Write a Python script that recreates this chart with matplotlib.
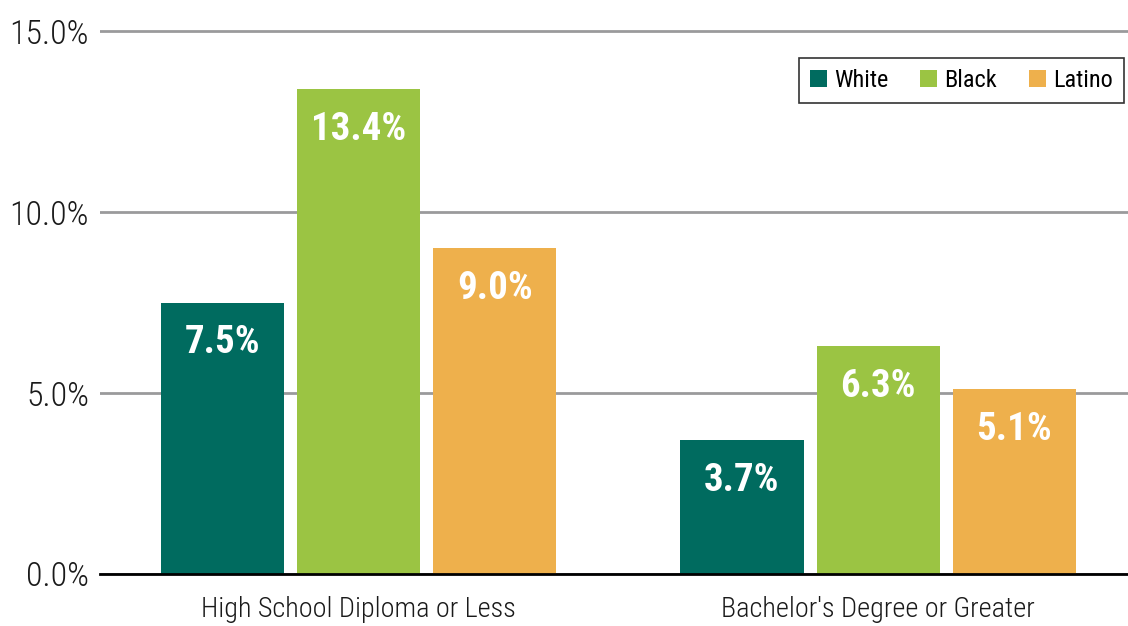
import numpy as np
import matplotlib
matplotlib.use('Agg')
from matplotlib import pyplot as plt

# data
groups = ['High School Diploma or Less', "Bachelor's Degree or Greater"]
series = ['White', 'Black', 'Latino']
white = [7.5, 3.7]
black = [13.4, 6.3]
latino = [9.0, 5.1]
colors = ['#006B5F', '#9BC443', '#EEB04C']
yticks = [0, 5, 10, 15]

plt.rcParams['font.family'] = ['Roboto Condensed', 'Liberation Sans Narrow', 'Roboto', 'DejaVu Sans']

fig = plt.figure(figsize=(11.28, 6.26), dpi=100)
ax = fig.add_axes([100/1128, 52/626, 1028/1128, 550.2/626])

x = np.arange(len(groups))
w = 0.237
step = 0.262
for i, (vals, c) in enumerate(zip([white, black, latino], colors)):
    bars = ax.bar(x + (i-1)*step, vals, w, color=c, label=series[i], zorder=3)
    for b, v in zip(bars, vals):
        ax.annotate('%.1f%%' % v, (b.get_x()+b.get_width()/2, v), xytext=(0, -29),
                    textcoords='offset points', ha='center', va='center',
                    color='white', fontsize=28, fontweight='bold', zorder=4)

ax.set_xlim(-0.4976, 1.481)
ax.set_ylim(0, 15.2)
ax.set_yticks(yticks)
ax.set_yticklabels(['%.1f%%' % t for t in yticks], fontsize=24.5, color='#1a1a1a',
                   fontweight='light')
ax.set_xticks(x)
ax.set_xticklabels(groups, fontsize=20.3, color='#1a1a1a', fontweight='light')
ax.tick_params(axis='y', length=0, pad=8)
ax.tick_params(axis='x', length=0, pad=16)
ax.yaxis.grid(True, color='#9a9a9c', linewidth=2, zorder=0)
for s in ['top', 'right', 'left']:
    ax.spines[s].set_visible(False)
ax.spines['bottom'].set_linewidth(2)
ax.spines['bottom'].set_color('black')
ax.spines['bottom'].set_zorder(5)

leg = ax.legend(ncol=3, loc='upper right', bbox_to_anchor=(0.996, 0.938), fontsize=17.5,
                frameon=True, fancybox=False, edgecolor='black', handlelength=0.7,
                handleheight=0.7, handletextpad=0.3, columnspacing=1.3,
                borderpad=0.45, borderaxespad=0)
leg.get_frame().set_linewidth(1.2)

plt.savefig('out.png', dpi=100)
